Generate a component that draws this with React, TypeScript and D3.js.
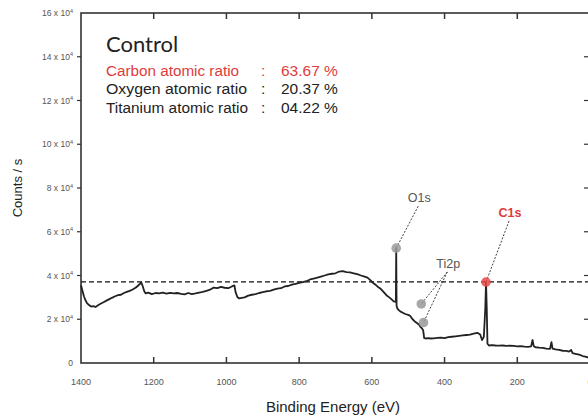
import { scaleLinear, line } from "d3";

const energy = [
  1400, 1396, 1392, 1388, 1384, 1378, 1372, 1366, 1360, 1352, 1345, 1338, 1330, 1322, 1315, 1306, 1298, 1290, 1282, 1274,
  1266, 1258, 1250, 1244, 1238, 1234, 1230, 1226, 1222, 1215, 1205, 1195, 1185, 1175, 1165, 1155, 1145, 1135, 1125, 1115,
  1105, 1095, 1085, 1075, 1065, 1055, 1045, 1035, 1025, 1015, 1005, 995, 985, 978, 975, 970, 965, 958, 950, 940,
  930, 920, 910, 900, 890, 880, 870, 860, 850, 840, 830, 820, 810, 800, 790, 780, 770, 760, 750, 740,
  730, 720, 710, 700, 690, 680, 670, 660, 650, 640, 630, 620, 612, 605, 598, 590, 582, 575, 568, 560,
  552, 545, 540, 536, 534, 533, 532, 530, 526, 522, 515, 508, 500, 495, 488, 482, 476, 470, 466, 462,
  459, 456, 452, 445, 438, 430, 420, 410, 400, 390, 380, 370, 360, 350, 340, 330, 320, 310, 302, 297,
  292, 288, 286, 284, 282, 278, 270, 260, 250, 240, 230, 220, 210, 200, 190, 180, 170, 162, 158, 155,
  150, 140, 130, 120, 110, 106, 103, 95, 85, 75, 65, 58, 52, 48, 40, 30, 20, 10, 0,
];
// counts in units of 10^4
const counts = [
  3.55, 3.3, 3.05, 2.88, 2.75, 2.65, 2.58, 2.6, 2.56, 2.65, 2.72, 2.78, 2.85, 2.92, 2.98, 3.05, 3.1, 3.12, 3.2, 3.25,
  3.3, 3.36, 3.44, 3.52, 3.62, 3.68, 3.5, 3.28, 3.18, 3.22, 3.15, 3.2, 3.18, 3.22, 3.17, 3.21, 3.18, 3.2, 3.16, 3.14,
  3.2, 3.15, 3.18, 3.22, 3.25, 3.3, 3.35, 3.45, 3.42, 3.48, 3.44, 3.42, 3.5, 3.55, 3.25, 3.02, 2.95, 2.98, 3.0, 3.08,
  3.12, 3.15, 3.2, 3.24, 3.28, 3.3, 3.35, 3.4, 3.42, 3.5, 3.52, 3.58, 3.62, 3.66, 3.7, 3.74, 3.82, 3.86, 3.9, 3.95,
  4.0, 4.05, 4.08, 4.1, 4.18, 4.2, 4.15, 4.14, 4.1, 4.06, 4.0, 3.95, 3.9, 3.8, 3.68, 3.58, 3.46, 3.38, 3.25, 3.1,
  3.0, 2.9, 2.82, 2.8, 2.8, 5.25, 2.62, 2.5, 2.42, 2.36, 2.3, 2.24, 2.2, 2.16, 2.0, 1.9, 1.83, 1.75, 1.64, 1.58,
  1.5, 1.14, 1.12, 1.14, 1.12, 1.13, 1.15, 1.16, 1.14, 1.18, 1.2, 1.22, 1.24, 1.26, 1.28, 1.3, 1.34, 1.38, 1.3, 1.05,
  1.2, 2.5, 3.7, 2.5, 0.88, 0.8, 0.82, 0.8, 0.79, 0.8, 0.78, 0.79, 0.78, 0.76, 0.77, 0.75, 0.74, 0.76, 1.05, 0.78,
  0.72, 0.7, 0.69, 0.66, 0.65, 0.95, 0.66, 0.62, 0.6, 0.56, 0.55, 0.52, 0.6, 0.45, 0.42, 0.38, 0.32, 0.28, 0.22,
];

const xTicks = [1400, 1200, 1000, 800, 600, 400, 200, 0];
const yTicks = [0, 2, 4, 6, 8, 10, 12, 14, 16];
const baseline = 3.71;

const ratioNames = ["Carbon atomic ratio", "Oxygen atomic ratio", "Titanium atomic ratio"];
const ratioValues = ["63.67 %", "20.37 %", "04.22 %"];
const ratioColors = ["#e03c3c", "#222", "#222"];
const nameWidths = [133, 141, 142];

// peak markers
const peakLabels = ["O1s", "Ti2p", "C1s"];
const peakDotsE = [[533], [464, 458], [286]];
const peakDotsV = [[5.25], [2.7, 1.85], [3.7]];
const peakColors = ["#555", "#555", "#e03c3c"];

const W = 588;
const H = 418;
const margin = { top: 13, right: -2, bottom: 55, left: 81 };

export default function App() {
  const innerW = W - margin.left - margin.right;
  const innerH = H - margin.top - margin.bottom;

  const x = scaleLinear().domain([1400, 0]).range([0, innerW]);
  const y = scaleLinear().domain([0, 16]).range([innerH, 0]);

  const path = line<number>()
    .x((d, i) => x(energy[i]))
    .y((d) => y(d))(counts);

  // label offset (center x, baseline) from first dot
  const labelOffsets = [
    [23, -46],
    [27, -36],
    [24, -65],
  ];

  return (
    <svg
      width={W}
      height={H}
      style={{ position: "absolute", left: 0, top: 0, background: "#fff", fontFamily: "'Liberation Sans', Arial, sans-serif" }}
    >
      <g transform={`translate(${margin.left},${margin.top})`}>
        <rect x={0} y={0} width={innerW} height={innerH} fill="none" stroke="#333" strokeWidth={1.6} />

        {xTicks.map((t) => (
          <g key={"x" + t}>
            {t !== 1400 && t !== 0 && (
              <>
                <line x1={x(t)} x2={x(t)} y1={innerH} y2={innerH - 6} stroke="#333" strokeWidth={1.5} />
                <line x1={x(t)} x2={x(t)} y1={0} y2={6} stroke="#333" strokeWidth={1.5} />
              </>
            )}
            <text x={x(t)} y={innerH + 22} textAnchor="middle" fontSize={9} fill={t === 0 ? "#e0a020" : "#555"}>
              {t}
            </text>
          </g>
        ))}

        {yTicks.map((t) => (
          <g key={"y" + t}>
            {t !== 0 && t !== 16 && (
              <>
                <line x1={-4} x2={0} y1={y(t)} y2={y(t)} stroke="#333" strokeWidth={1.2} />
                <line x1={innerW} x2={innerW - 6} y1={y(t)} y2={y(t)} stroke="#333" strokeWidth={1.2} />
              </>
            )}
            <text x={-8} y={y(t) + 3} textAnchor="end" fontSize={8.5} fill="#555">
              {t === 0 ? (
                "0"
              ) : (
                <>
                  {t} x 10<tspan dy={-3.5} fontSize={5.5}>4</tspan>
                </>
              )}
            </text>
          </g>
        ))}

        <line
          x1={0}
          x2={innerW}
          y1={y(baseline)}
          y2={y(baseline)}
          stroke="#111"
          strokeWidth={1.3}
          strokeDasharray="5 3"
        />

        <path d={path ?? ""} fill="none" stroke="#222" strokeWidth={1.8} strokeLinejoin="round" />

        {peakLabels.map((name, i) => {
          const x0 = x(peakDotsE[i][0]);
          const y0 = y(peakDotsV[i][0]);
          const lx = x0 + labelOffsets[i][0];
          const ly = y0 + labelOffsets[i][1];
          return (
            <g key={name}>
              {peakDotsE[i].map((e, j) => (
                <line
                  key={j}
                  x1={lx - 1}
                  y1={ly + 4}
                  x2={x(e)}
                  y2={y(peakDotsV[i][j])}
                  stroke="#444"
                  strokeWidth={1}
                  strokeDasharray="2 1.5"
                />
              ))}
              {peakDotsE[i].map((e, j) => (
                <circle
                  key={"c" + j}
                  cx={x(e)}
                  cy={y(peakDotsV[i][j])}
                  r={4.8}
                  fill={i === 2 ? "#e84848" : "#999"}
                  opacity={0.85}
                />
              ))}
              <text
                x={lx}
                y={ly}
                textAnchor="middle"
                fontSize={12.5}
                fontWeight={i === 2 ? "bold" : "normal"}
                fill={peakColors[i]}
              >
                {name}
              </text>
            </g>
          );
        })}

        <text x={25} y={39} fontSize={22} fontFamily="Lato, 'Open Sans', sans-serif" fill="#222">
          Control
        </text>
        {ratioNames.map((n, i) => (
          <g key={n} fill={ratioColors[i]} fontSize={15.5}>
            <text x={25} y={62.5 + i * 18.5} textLength={nameWidths[i]} lengthAdjust="spacingAndGlyphs">
              {n}
            </text>
            <text x={180} y={62.5 + i * 18.5}>:</text>
            <text x={200} y={62.5 + i * 18.5} fontSize={15.5}>
              {ratioValues[i]}
            </text>
          </g>
        ))}
      </g>

      <text
        transform={`translate(22,${margin.top + innerH / 2}) rotate(-90)`}
        textAnchor="middle"
        fontSize={13}
        fill="#222"
      >
        Counts / s
      </text>
      <text x={333} y={412} textAnchor="middle" fontSize={15} fill="#222">
        Binding Energy (eV)
      </text>
    </svg>
  );
}
